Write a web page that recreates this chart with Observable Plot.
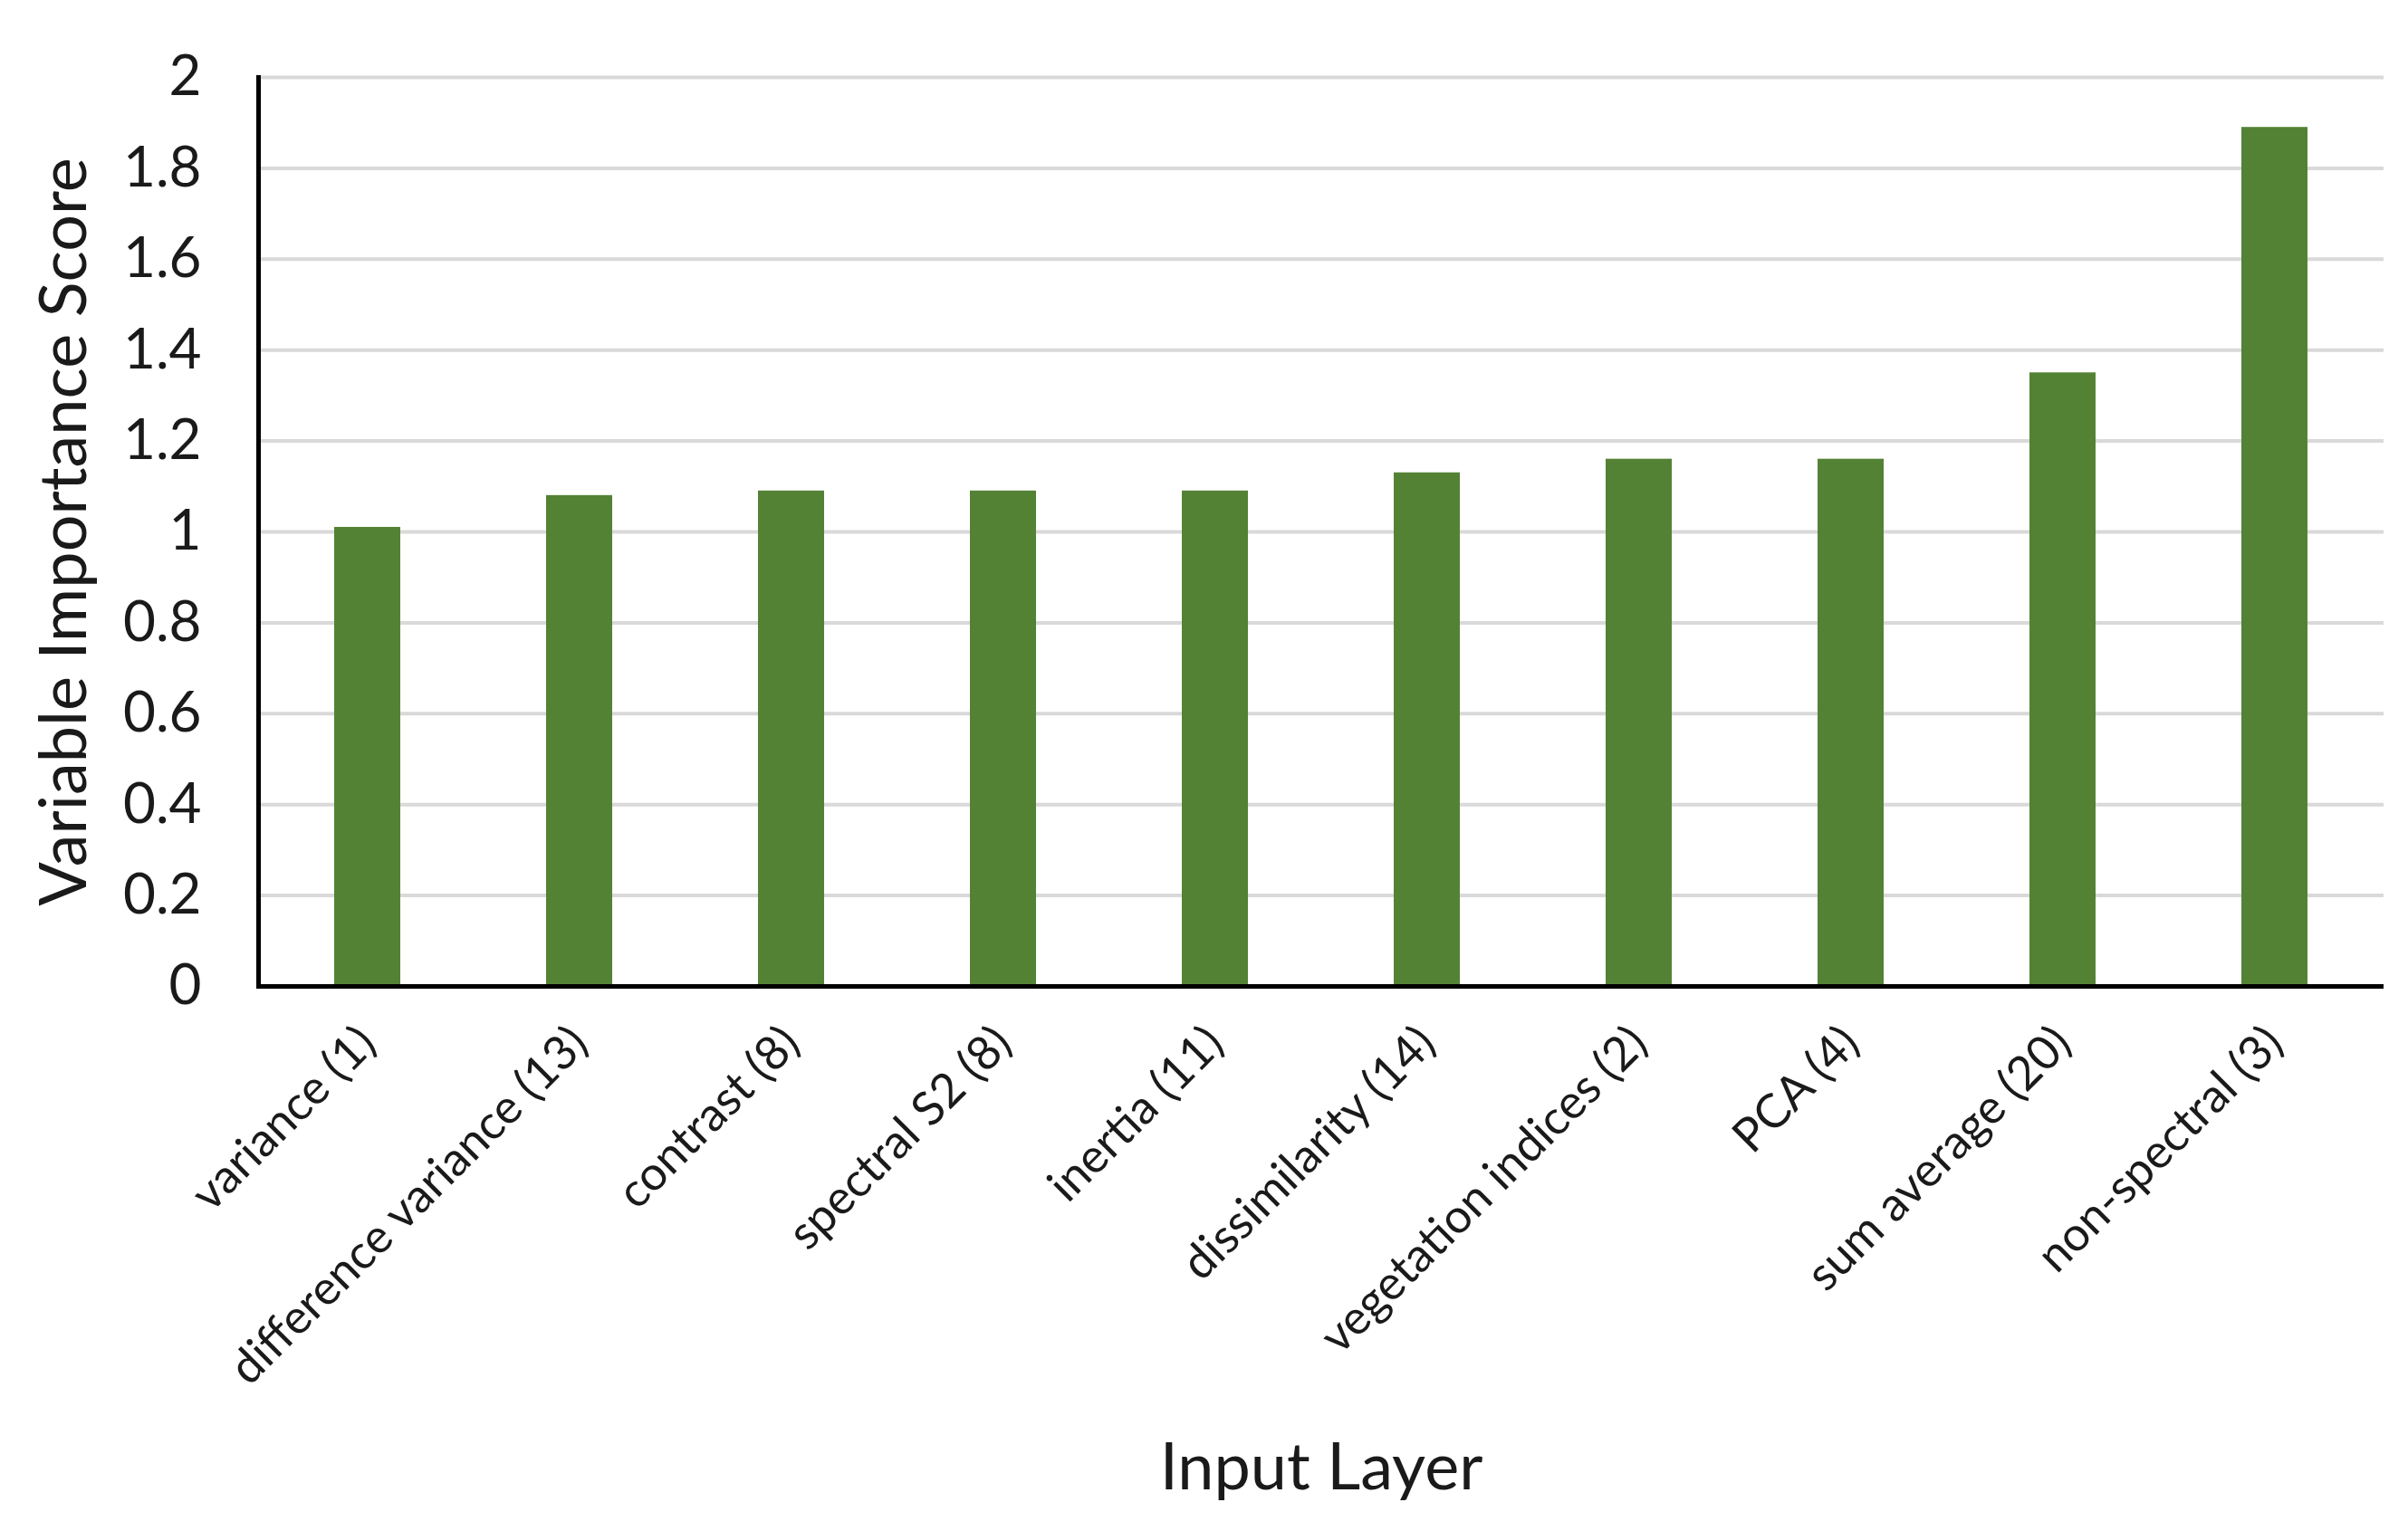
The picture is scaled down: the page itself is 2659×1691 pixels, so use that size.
<!DOCTYPE html>
<html><head><meta charset="utf-8">
<script src="https://cdn.jsdelivr.net/npm/d3@7"></script>
<script src="https://cdn.jsdelivr.net/npm/@observablehq/plot@0.6"></script>
<style>html,body{margin:0;padding:0;background:#fff} svg{display:block}</style>
</head><body><div id="chart"></div>
<script>
const categories = ["variance (1)", "difference variance (13)", "contrast (8)", "spectral S2 (8)", "inertia (11)", "dissimilarity (14)", "vegetation indices (2)", "PCA (4)", "sum average (20)", "non-spectral (3)"];
const scores = [1.01, 1.08, 1.09, 1.09, 1.09, 1.13, 1.16, 1.16, 1.35, 1.89];
const yTicks = [0, 0.2, 0.4, 0.6, 0.8, 1, 1.2, 1.4, 1.6, 1.8, 2];
const yTickLabels = ["0", "0.2", "0.4", "0.6", "0.8", "1", "1.2", "1.4", "1.6", "1.8", "2"];
const xTitle = "Input Layer";
const yTitle = "Variable Importance Score";

const data = categories.map((c, i) => ({layer: c, score: scores[i]}));

const chart = Plot.plot({
  width: 2659, height: 1691,
  marginLeft: 285, marginRight: 27, marginTop: 85, marginBottom: 602,
  style: {fontFamily: "Lato", background: "#fff", color: "#1a1a1a"},
  x: {domain: categories, paddingInner: 0.69, paddingOuter: 0.345},
  y: {domain: [0, 2]},
  marks: [
    Plot.gridY(yTicks, {stroke: "#d9d9d9", strokeOpacity: 1, strokeWidth: 4}),
    Plot.barY(data, {x: "layer", y: "score", fill: "#548235"}),
    Plot.ruleY([0], {stroke: "#000", strokeWidth: 5}),
    Plot.frame({anchor: "left", stroke: "#000", strokeWidth: 5}),
    Plot.axisY(yTicks, {tickSize: 0, tickPadding: 63, fontSize: 62, tickFormat: (d) => yTickLabels[yTicks.indexOf(d)], label: null}),
    Plot.axisX({tickSize: 0, tickRotate: -45, tickPadding: 54, fontSize: 52, label: null}),
    Plot.text([yTitle], {frameAnchor: "left", textAnchor: "middle", lineAnchor: "middle", rotate: -90, dx: -214, fontSize: 72}),
    Plot.text([xTitle], {frameAnchor: "bottom", textAnchor: "middle", lineAnchor: "middle", dy: 532, fontSize: 72})
  ]
});
document.getElementById("chart").appendChild(chart);
</script>
</body></html>
